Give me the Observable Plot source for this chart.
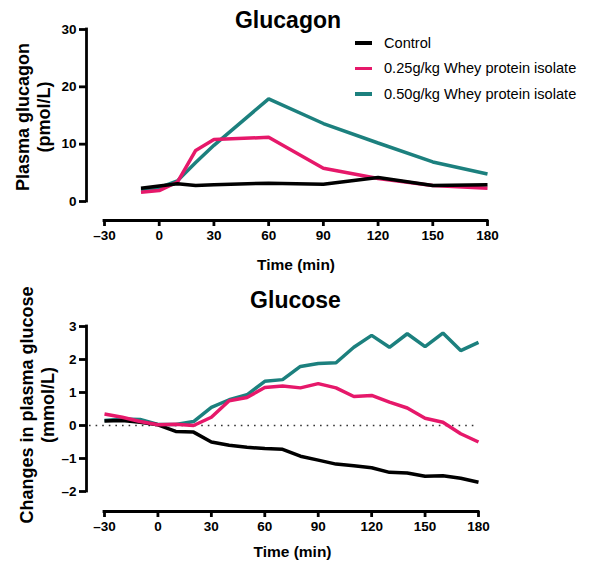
<!DOCTYPE html>
<html>
<head>
<meta charset="utf-8">
<script src="https://cdn.jsdelivr.net/npm/d3@7"></script>
<script src="https://cdn.jsdelivr.net/npm/@observablehq/plot@0.6"></script>
<style>
  body { margin: 0; background: #fff; }
  #c { position: relative; width: 591px; height: 563px; font-family: "Liberation Sans", Arial, sans-serif; color: #000; overflow: hidden; }
  .abs { position: absolute; white-space: nowrap; }
  .title { font-weight: bold; font-size: 23px; line-height: 23px; transform: translateX(-50%); }
  .xlab { font-weight: bold; font-size: 15.5px; line-height: 15.5px; transform: translateX(-50%); }
  .ylab { font-weight: bold; font-size: 18px; line-height: 21px; text-align: center; transform: translate(-50%, -50%) rotate(-90deg); }
  .leg { font-size: 14.6px; line-height: 16px; display: flex; align-items: center; }
  .sw { width: 17px; height: 3.5px; margin-right: 12px; }
</style>
</head>
<body>
<div id="c">
  <div class="abs title" style="left:288px; top:8.5px;">Glucagon</div>
  <div class="abs title" style="left:295.5px; top:288.5px;">Glucose</div>
  <div class="abs ylab" style="left:34px; top:117px;">Plasma glucagon<br>(pmol/L)</div>
  <div class="abs ylab" style="left:38px; top:405px;">Changes in plasma glucose<br>(mmol/L)</div>
  <div class="abs xlab" style="left:296px; top:257px;">Time (min)</div>
  <div class="abs xlab" style="left:292.5px; top:544px;">Time (min)</div>
  <div id="legend" class="abs" style="left:355px; top:30px;"></div>
</div>
<script>
// ---- data ----
const seriesNames = ["Control", "0.25g/kg Whey protein isolate", "0.50g/kg Whey protein isolate"];
const seriesColors = ["#000000", "#E6186A", "#1C807E"];

const xTicks = [-30, 0, 30, 60, 90, 120, 150, 180];
const glucagonTicks = [0, 10, 20, 30];
const glucoseTicks = [-2, -1, 0, 1, 2, 3];

const glucagonTime = [-10, 0, 10, 20, 30, 60, 90, 120, 150, 180];
const glucagonControl = [2.3, 2.7, 3.1, 2.8, 2.9, 3.2, 3.0, 4.2, 2.8, 2.9];
const glucagonWhey025 = [1.6, 1.9, 3.4, 8.9, 10.8, 11.2, 5.8, 4.0, 2.8, 2.3];
const glucagonWhey050 = [2.0, 2.4, 3.6, 6.8, 9.8, 17.9, 13.6, 10.2, 6.9, 4.8];

const glucoseTime = [-30, -20, -10, 0, 10, 20, 30, 40, 50, 60, 70, 80, 90, 100, 110, 120, 130, 140, 150, 160, 170, 180];
const glucoseControl = [0.14, 0.15, 0.1, 0.02, -0.18, -0.2, -0.5, -0.6, -0.66, -0.7, -0.72, -0.93, -1.05, -1.17, -1.22, -1.28, -1.42, -1.44, -1.54, -1.52, -1.6, -1.72];
const glucoseWhey025 = [0.35, 0.25, 0.12, 0.02, 0.04, 0.0, 0.25, 0.75, 0.85, 1.15, 1.2, 1.14, 1.27, 1.14, 0.88, 0.91, 0.71, 0.53, 0.22, 0.1, -0.25, -0.5];
const glucoseWhey050 = [0.15, 0.2, 0.18, 0.03, 0.03, 0.12, 0.55, 0.78, 0.93, 1.34, 1.39, 1.79, 1.88, 1.9, 2.37, 2.73, 2.37, 2.78, 2.39, 2.8, 2.27, 2.52];

// ---- build tables ----
function table(times, values) { return times.map((t, i) => ({time: t, value: values[i]})); }
const gcg = [glucagonControl, glucagonWhey025, glucagonWhey050].map(v => table(glucagonTime, v));
const glc = [glucoseControl, glucoseWhey025, glucoseWhey050].map(v => table(glucoseTime, v));

const font = {fontFamily: "'Liberation Sans', Arial, sans-serif", fontSize: "13.5px", fontWeight: "bold", background: "transparent", overflow: "visible"};
const AX = 2.8;
const fmt = d => d < 0 ? "\u2013" + Math.abs(d) : String(d);

function panel({height, marginTop, marginBottom, marginRight, yDomain, yTicks, xDy, series, order, zeroLine}) {
  const marks = [];
  if (zeroLine) marks.push(Plot.ruleY([0], {stroke: "#333", strokeWidth: 1.6, strokeDasharray: "1.6,5", insetLeft: -15}));
  for (const i of order) {
    marks.push(Plot.line(series[i], {x: "time", y: "value", stroke: seriesColors[i], strokeWidth: 3.5, strokeLinejoin: "miter", strokeLinecap: "butt"}));
  }
  marks.push(
    Plot.ruleX([xTicks[0]], {dx: -18, strokeWidth: AX, insetTop: -1.4, insetBottom: -1.4}),
    Plot.axisY({ticks: yTicks, dx: -18, tickSize: 7, strokeWidth: AX, tickPadding: 3, label: null, fontWeight: "bold", fontSize: 13.5, tickFormat: fmt}),
    Plot.ruleY([yDomain[0]], {dy: xDy, strokeWidth: AX, insetLeft: -1.4, insetRight: -1.4}),
    Plot.axisX({ticks: xTicks, dy: xDy, tickSize: 6, strokeWidth: AX, tickPadding: 4, label: null, fontWeight: "bold", fontSize: 13.5, tickFormat: fmt})
  );
  return Plot.plot({
    width: 591, height, marginLeft: 104, marginRight, marginTop, marginBottom,
    x: {domain: [xTicks[0], xTicks[xTicks.length - 1]]},
    y: {domain: yDomain},
    style: font,
    marks
  });
}

const svgTop = panel({height: 280, marginTop: 29, marginBottom: 79, marginRight: 104, yDomain: [0, 30], yTicks: glucagonTicks, xDy: 19, series: gcg, order: [2, 1, 0], zeroLine: false});
const svgBottom = panel({height: 283, marginTop: 46, marginBottom: 72, marginRight: 113, yDomain: [-2, 3], yTicks: glucoseTicks, xDy: 20, series: glc, order: [2, 0, 1], zeroLine: true});
for (const [svg, t] of [[svgTop, 0], [svgBottom, 280]]) {
  svg.style.position = "absolute"; svg.style.left = "0px"; svg.style.top = t + "px";
}
const c = document.getElementById("c");
c.insertBefore(svgBottom, c.firstChild);
c.insertBefore(svgTop, c.firstChild);

// legend
const leg = document.getElementById("legend");
seriesNames.forEach((name, i) => {
  const row = document.createElement("div");
  row.className = "leg";
  row.style.height = "25.5px";
  const sw = document.createElement("div"); sw.className = "sw"; sw.style.background = seriesColors[i];
  const tx = document.createElement("span"); tx.textContent = name;
  row.appendChild(sw); row.appendChild(tx); leg.appendChild(row);
});
</script>
</body>
</html>
